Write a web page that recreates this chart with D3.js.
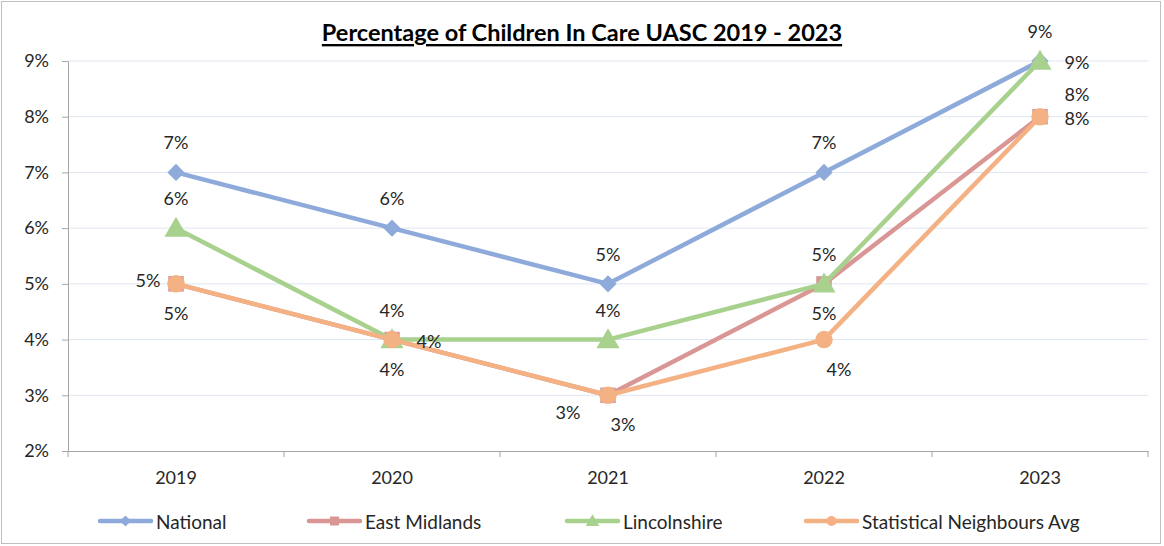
<!DOCTYPE html>
<html>
<head>
<meta charset="utf-8">
<script src="https://cdn.jsdelivr.net/npm/d3@7.9.0/dist/d3.min.js"></script>
<style>
  body { margin: 0; background: #fff; }
  svg { font-family: Lato, "Open Sans", sans-serif; }
</style>
</head>
<body>
<svg id="chart" width="1164" height="546"></svg>
<script>
const years = ['2019', '2020', '2021', '2022', '2023'];
const yTicks = [2, 3, 4, 5, 6, 7, 8, 9];

const national = [7, 6, 5, 7, 9];
const eastMidlands = [5, 4, 3, 5, 8];
const lincolnshire = [6, 4, 4, 5, 9];
const statNeighbours = [5, 4, 3, 4, 8];

const seriesNames = ['National', 'East Midlands', 'Lincolnshire', 'Statistical Neighbours Avg'];
// where each data label sits relative to its point
const labelPlaces = [
  ['above', 'above', 'above', 'above', 'above'],
  ['left', 'right', 'belowLeft', 'below', 'rightUp'],
  ['above', 'above', 'above', 'above', 'right'],
  ['below', 'below', 'belowRight', 'belowRight', 'right']
];

const colors = ['#8eaadb', '#d99694', '#a9d18e', '#f4b183'];
const shapes = [d3.symbolDiamond2, d3.symbolSquare, d3.symbolTriangle, d3.symbolCircle];
const values = [national, eastMidlands, lincolnshire, statNeighbours];

const svg = d3.select('#chart');
const plotLeft = 68, plotRight = 1148, plotTop = 61, plotBottom = 451;

svg.append('rect')
  .attr('x', 1.5).attr('y', 1.5)
  .attr('width', 1159).attr('height', 542)
  .attr('fill', '#fff').attr('stroke', '#bfbfbf');

const x = d3.scaleBand().domain(years).range([plotLeft, plotRight]);
const y = d3.scaleLinear().domain([2, 9]).range([plotBottom, plotTop]);

// gridlines
svg.append('g')
  .selectAll('line')
  .data(yTicks.slice(1))
  .join('line')
  .attr('x1', plotLeft).attr('x2', plotRight)
  .attr('y1', (d) => y(d)).attr('y2', (d) => y(d))
  .attr('stroke', '#dfe6f1').attr('stroke-width', 1);

// y axis
const yAxis = svg.append('g')
  .attr('transform', `translate(${plotLeft},0)`)
  .call(d3.axisLeft(y).tickValues(yTicks).tickFormat((d) => d + '%').tickSize(6).tickSizeOuter(0));
yAxis.select('.domain').attr('stroke', '#a6a6a6');
yAxis.selectAll('.tick line').attr('stroke', '#a6a6a6');
yAxis.selectAll('.tick text')
  .attr('x', -19)
  .attr('font-size', 18).attr('fill', '#262626')
  .attr('font-family', 'Lato, sans-serif');

// x axis
const xAxis = svg.append('g')
  .attr('transform', `translate(0,${plotBottom})`)
  .call(d3.axisBottom(x).tickSize(0).tickSizeOuter(0));
xAxis.select('.domain').attr('stroke', '#a6a6a6');
xAxis.selectAll('.tick text')
  .attr('y', 20)
  .attr('font-size', 18).attr('fill', '#262626')
  .attr('font-family', 'Lato, sans-serif');
const bounds = years.map((d) => x(d)).concat([plotRight]);
svg.append('g')
  .selectAll('line')
  .data(bounds)
  .join('line')
  .attr('x1', (d) => d).attr('x2', (d) => d)
  .attr('y1', plotBottom).attr('y2', plotBottom + 6)
  .attr('stroke', '#a6a6a6');

const cx = (i) => x(years[i]) + x.bandwidth() / 2;
const line = d3.line().x((d, i) => cx(i)).y((d) => y(d));

const sizes = [190, 240, 230, 240];

values.forEach((vals, s) => {
  const g = svg.append('g');
  g.append('path')
    .attr('d', line(vals))
    .attr('fill', 'none')
    .attr('stroke', colors[s])
    .attr('stroke-width', 4.5)
    .attr('stroke-linejoin', 'round');
  g.selectAll('path.m')
    .data(vals)
    .join('path')
    .attr('class', 'm')
    .attr('transform', (d, i) => `translate(${cx(i)},${y(d) + (s === 2 ? 2 : 0)})`)
    .attr('d', d3.symbol().type(shapes[s]).size(sizes[s]))
    .attr('fill', colors[s]);
});

const offsets = {
  above: [0, -30],
  below: [0, 29],
  left: [-28, -4],
  right: [37, 1],
  rightUp: [37, -23],
  belowLeft: [-40, 17],
  belowRight: [15, 29]
};

values.forEach((vals, s) => {
  svg.append('g')
    .selectAll('text')
    .data(vals)
    .join('text')
    .attr('x', (d, i) => cx(i) + offsets[labelPlaces[s][i]][0])
    .attr('y', (d, i) => y(d) + offsets[labelPlaces[s][i]][1])
    .attr('text-anchor', 'middle')
    .attr('dominant-baseline', 'central')
    .attr('font-size', 18)
    .attr('fill', '#262626')
    .text((d) => d + '%');
});

// title
svg.append('text')
  .attr('x', 582).attr('y', 32)
  .attr('text-anchor', 'middle')
  .attr('dominant-baseline', 'central')
  .attr('font-size', 23.5)
  .attr('font-weight', 'bold')
  .attr('text-decoration', 'underline')
  .attr('fill', '#000')
  .text('Percentage of Children In Care UASC 2019 - 2023');

// legend
const legendX = [100, 309, 567, 806];
const legend = svg.append('g').attr('transform', 'translate(0,521)');
seriesNames.forEach((name, s) => {
  const lg = legend.append('g').attr('transform', `translate(${legendX[s]},0)`);
  lg.append('line')
    .attr('x1', 0).attr('x2', 51)
    .attr('stroke', colors[s]).attr('stroke-width', 4.5)
    .attr('stroke-linecap', 'round');
  lg.append('path')
    .attr('transform', `translate(25.5,${s === 2 ? 1 : 0})`)
    .attr('d', d3.symbol().type(shapes[s]).size(80))
    .attr('fill', colors[s]);
  lg.append('text')
    .attr('x', 56)
    .attr('dominant-baseline', 'central')
    .attr('font-size', 19)
    .attr('fill', '#262626')
    .text(name);
});
</script>
</body>
</html>
